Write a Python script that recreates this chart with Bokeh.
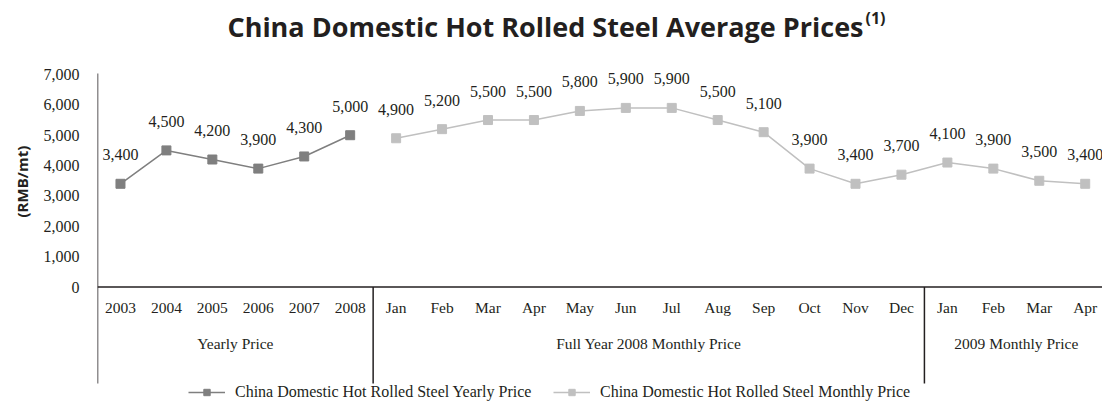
import numpy as np
from bokeh.plotting import figure
from bokeh.models import (Range1d, FixedTicker, NumeralTickFormatter, Label, Legend,
                          LegendItem, Title)
from bokeh.core.properties import value
from bokeh.embed import file_html
from bokeh.resources import INLINE

# ---------------- data ----------------
title_text = "China Domestic Hot Rolled Steel Average Prices"
title_note = "(1)"
y_label = "(RMB/mt)"
years = ["2003", "2004", "2005", "2006", "2007", "2008"]
yearly_price = [3400, 4500, 4200, 3900, 4300, 5000]
months_2008 = ["Jan", "Feb", "Mar", "Apr", "May", "Jun", "Jul", "Aug", "Sep", "Oct", "Nov", "Dec"]
monthly_2008 = [4900, 5200, 5500, 5500, 5800, 5900, 5900, 5500, 5100, 3900, 3400, 3700]
months_2009 = ["Jan", "Feb", "Mar", "Apr"]
monthly_2009 = [4100, 3900, 3500, 3400]
group_names = ["Yearly Price", "Full Year 2008 Monthly Price", "2009 Monthly Price"]
y_ticks = [0, 1000, 2000, 3000, 4000, 5000, 6000, 7000]
series_names = ["China Domestic Hot Rolled Steel Yearly Price",
                "China Domestic Hot Rolled Steel Monthly Price"]

# ---------------- layout ----------------
W, H = 1102, 401
LEFT = 97          # frame left edge (px)
CW = 45.94         # category width (px)
Y0_PX, Y7_PX = 286.5, 74.0
k = (Y0_PX - Y7_PX) / 7000.0


def xd(px):
    return (px - LEFT) / CW


def yd(py):
    return (Y0_PX - py) / k


x_end = (W - LEFT) / CW
y_start = -(H - Y0_PX) / k
y_end = Y0_PX / k

TEXT = "#231f20"
DARK = "#7f7f7f"
LIGHT = "#c0c0c0"
SERIF = "Liberation Serif"

p = figure(width=W, height=H, x_range=Range1d(0, x_end), y_range=Range1d(y_start, y_end),
           output_backend="svg", toolbar_location=None, x_axis_type=None,
           min_border_left=LEFT, min_border_right=0, min_border_top=0, min_border_bottom=0)
p.outline_line_color = None
p.grid.visible = False
p.background_fill_color = "white"

ax = p.yaxis[0]
ax.ticker = FixedTicker(ticks=y_ticks)
ax.formatter = NumeralTickFormatter(format="0,0")
ax.axis_line_color = None
ax.major_tick_line_color = None
ax.minor_tick_line_color = None
ax.major_tick_out = 0
ax.major_label_standoff = 18
ax.major_label_text_font = SERIF
ax.major_label_text_font_size = "16px"
ax.major_label_text_color = TEXT

# y axis label as a side title (bottom-anchored so it can be offset vertically)
p.add_layout(Title(text=y_label, align="left", offset=H - 217, standoff=17,
                   text_font="Open Sans", text_font_style="bold", text_font_size="15px",
                   text_color=TEXT), "left")

# categories / positions
cats = years + months_2008 + months_2009
n_year = len(years)
n_cat = len(cats)
x_year = np.arange(n_year) + 0.5
monthly = monthly_2008 + monthly_2009
x_month = np.arange(n_year, n_cat) + 0.5
group_sizes = [len(years), len(months_2008), len(months_2009)]
bounds = np.cumsum([0] + group_sizes)

# axis lines
bottom = yd(383)
p.segment(x0=[0], y0=[yd(73)], x1=[0], y1=[bottom], line_color=TEXT, line_width=1.5)
p.segment(x0=[0], y0=[0], x1=[x_end], y1=[0], line_color=TEXT, line_width=1.5)
p.segment(x0=bounds[1:-1], y0=[0] * (len(bounds) - 2), x1=bounds[1:-1],
          y1=[bottom] * (len(bounds) - 2), line_color=TEXT, line_width=1.5)

# series
l1 = p.line(x_year, yearly_price, line_color=DARK, line_width=1.5)
s1 = p.scatter(x_year, yearly_price, marker="square", size=9, color=DARK)
l2 = p.line(x_month, monthly, line_color=LIGHT, line_width=1.5)
s2 = p.scatter(x_month, monthly, marker="square", size=9, color=LIGHT)

# data labels
p.text(list(x_year) + list(x_month), yearly_price + monthly,
       text=[f"{v:,}" for v in yearly_price + monthly],
       y_offset=-29, text_align="center", text_baseline="middle",
       text_font=value(SERIF), text_font_size="16px", text_color=TEXT)

# category labels
p.text(np.arange(n_cat) + 0.5, [yd(307)] * n_cat, text=cats,
       text_align="center", text_baseline="middle",
       text_font=value(SERIF), text_font_size="15.5px", text_color=TEXT)

# group labels
centers = (bounds[:-1] + bounds[1:]) / 2.0
p.text(centers, [yd(343)] * len(group_names), text=group_names,
       text_align="center", text_baseline="middle",
       text_font=value(SERIF), text_font_size="15.5px", text_color=TEXT)

# title
p.add_layout(Label(x=xd(863), y=yd(26), text=title_text, text_align="right",
                   text_baseline="middle", text_font="Open Sans", text_font_style="bold",
                   text_font_size="27px", text_color=TEXT))
p.add_layout(Label(x=xd(865), y=yd(17), text=title_note, text_align="left",
                   text_baseline="middle", text_font="Open Sans", text_font_style="bold",
                   text_font_size="16px", text_color=TEXT))

# legends
for name, rs, lx in [(series_names[0], [l1, s1], 188), (series_names[1], [l2, s2], 553)]:
    leg = Legend(items=[LegendItem(label=name, renderers=rs)], location=(lx - LEFT, 0),
                 orientation="horizontal", padding=0, margin=0, border_line_color=None,
                 background_fill_alpha=0, glyph_width=37, glyph_height=16, label_height=16,
                 label_standoff=10, label_text_font=SERIF, label_text_font_size="16px",
                 label_text_color=TEXT)
    p.add_layout(leg)

open("out.html", "w").write(file_html(p, INLINE))
